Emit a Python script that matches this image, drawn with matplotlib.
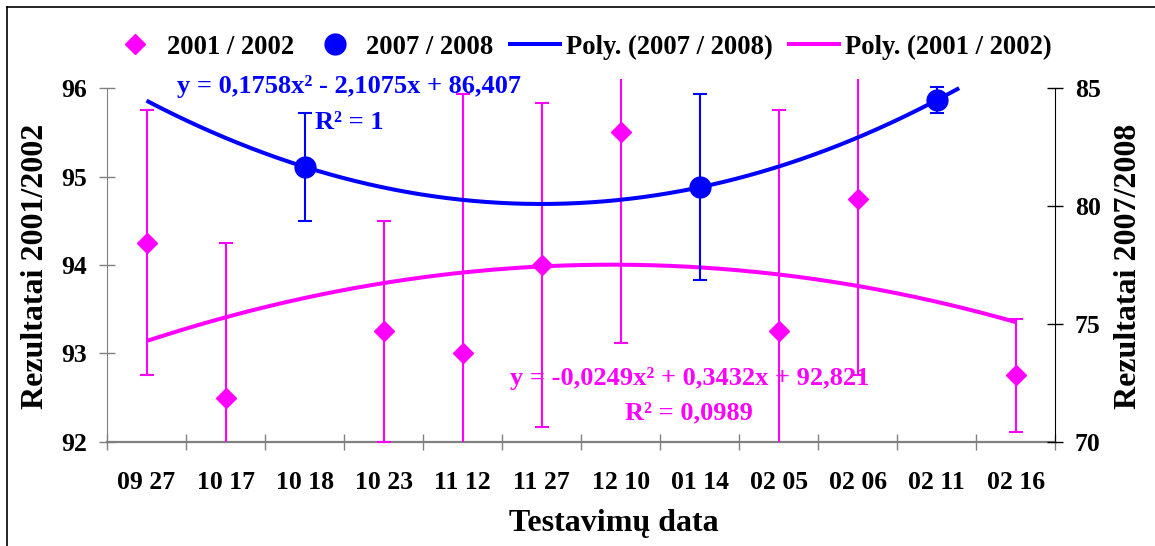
import numpy as np
import matplotlib
matplotlib.use("Agg")
import matplotlib.pyplot as plt
from matplotlib.lines import Line2D

plt.rcParams["font.family"] = ["Liberation Serif", "DejaVu Serif"]
plt.rcParams["font.weight"] = "bold"
plt.rcParams["axes.labelweight"] = "bold"

nan = np.nan

# test dates (month day)
categories = ["09 27", "10 17", "10 18", "10 23", "11 12", "11 27",
              "12 10", "01 14", "02 05", "02 06", "02 11", "02 16"]

# 2001/2002 results (left axis) and error
res_2001 = [94.25, 92.5, nan, 93.25, 93.0, 94.0, 95.5, nan, 93.25, 94.75, nan, 92.75]
err_2001 = [1.5, 1.75, nan, 1.25, 2.94, 1.83, 2.38, nan, 2.5, 2.0, nan, 0.64]

# 2007/2008 results (right axis) and error
res_2007 = [nan, nan, 81.66, nan, nan, nan, nan, 80.80, nan, nan, 84.49, nan]
err_2007 = [nan, nan, 2.3, nan, nan, nan, nan, 3.95, nan, nan, 0.55, nan]

# polynomial trendlines as printed on the chart
poly_2001 = [-0.0249, 0.3432, 92.821]
poly_2007 = [0.1758, -2.1075, 86.407]
eq_2001 = ["y = -0,0249x² + 0,3432x + 92,821", "R² = 0,0989"]
eq_2007 = ["y = 0,1758x² - 2,1075x + 86,407", "R² = 1"]

left_ticks = [92, 93, 94, 95, 96]
right_ticks = [70, 75, 80, 85]

MAGENTA = "#FF00FF"
BLUE = "#0000FF"
FS = 18.5

fig = plt.figure(figsize=(11.55, 5.46), dpi=100)
W, H = 1155, 546
ax = fig.add_axes([107 / W, 1 - 441.7 / H, (1055.3 - 107) / W, (441.7 - 79.3) / H])
ax2 = ax.twinx()

x = np.arange(1, len(categories) + 1)
top_pad = 0.102
ax.set_xlim(0.5, len(categories) + 0.5)
ax.set_ylim(92, 96 + top_pad)
ax2.set_ylim(70, 85 + top_pad * 15 / 4)

# trendlines
xt = np.linspace(1, len(categories), 400)
y_2001 = np.polyval(poly_2001, xt)
y_2007 = np.polyval(poly_2007, xt)
y_2007 = np.where(y_2007 > 85.05, nan, y_2007)
ax.plot(xt, y_2001, color=MAGENTA, lw=2.9, solid_capstyle="butt", zorder=2)
ax2.plot(xt, y_2007, color=BLUE, lw=2.9, solid_capstyle="butt", zorder=2)

ax.errorbar(x, res_2001, yerr=err_2001, fmt="D", color=MAGENTA, ms=10.2,
            elinewidth=1.5, capsize=5.3, capthick=1.5, zorder=3)
ax2.errorbar(x, res_2007, yerr=err_2007, fmt="o", color=BLUE, ms=15,
             elinewidth=1.5, capsize=5.3, capthick=1.5, zorder=3)

# equation labels
EQ = 19
ax.text(3.56, 96.02, eq_2007[0], color=BLUE, fontsize=EQ, ha="center", va="center")
ax.text(3.56, 95.61, eq_2007[1], color=BLUE, fontsize=EQ, ha="center", va="center")
ax.text(7.87, 92.72, eq_2001[0], color=MAGENTA, fontsize=EQ, ha="center", va="center")
ax.text(7.87, 92.33, eq_2001[1], color=MAGENTA, fontsize=EQ, ha="center", va="center")

# spines
for a in (ax, ax2):
    a.spines["top"].set_visible(False)
ax.spines["right"].set_visible(False)
ax2.spines["left"].set_visible(False)
ax2.spines["bottom"].set_visible(False)
ax.spines["left"].set_bounds(92, 96)
ax.spines["left"].set_color("#808080")
ax.spines["bottom"].set_color("#808080")
ax.spines["bottom"].set_linewidth(1.6)
ax2.spines["right"].set_bounds(70, 85)
ax2.spines["right"].set_color("black")

# ticks
ax.set_yticks(left_ticks)
ax.tick_params(axis="y", direction="inout", length=11, width=1, color="#808080",
               labelsize=FS, pad=9)
ax2.set_yticks(right_ticks)
ax2.tick_params(axis="y", direction="inout", length=12, width=1, color="black",
                labelsize=FS, pad=8)
ax.set_xticks(np.arange(0.5, len(categories) + 1, 1))
ax.set_xticklabels([])
ax.set_xticks(x, minor=True)
ax.set_xticklabels(categories, minor=True)
ax.tick_params(axis="x", which="major", direction="inout", length=12, width=1, color="#808080")
ax.tick_params(axis="x", which="minor", length=0, labelsize=FS, pad=21)

ax.set_ylabel("Rezultatai 2001/2002", fontsize=23, fontweight="bold")
ax.yaxis.set_label_coords(-0.06, 0.485)
ax2.set_ylabel("Rezultatai 2007/2008", fontsize=23, fontweight="bold", rotation=90)
ax2.yaxis.set_label_coords(1.062, 0.485)
ax.set_xlabel("Testavimų data", fontsize=23, fontweight="bold")
ax.xaxis.set_label_coords(0.534, -0.185)

# legend
handles = [
    Line2D([], [], ls="none", marker="D", color=MAGENTA, ms=10.2),
    Line2D([], [], ls="none", marker="o", color=BLUE, ms=15),
    Line2D([], [], color=BLUE, lw=2.9),
    Line2D([], [], color=MAGENTA, lw=2.9),
]
labels = ["2001 / 2002", "2007 / 2008", "Poly. (2007 / 2008)", "Poly. (2001 / 2002)"]
fig.legend(handles, labels, loc="center", bbox_to_anchor=(581 / W, 1 - 47 / H), ncol=4,
           frameon=False, fontsize=19.2, handlelength=1.9, handletextpad=0.22,
           columnspacing=0.6, borderaxespad=0)

# outer frame (top and left edges only)
fig.add_artist(Line2D([7 / W, 1], [1 - 7 / H, 1 - 7 / H], transform=fig.transFigure,
                      color="black", lw=1.2))
fig.add_artist(Line2D([7 / W, 7 / W], [0, 1 - 7 / H], transform=fig.transFigure,
                      color="black", lw=1.2))

fig.savefig("out.png", dpi=100)
